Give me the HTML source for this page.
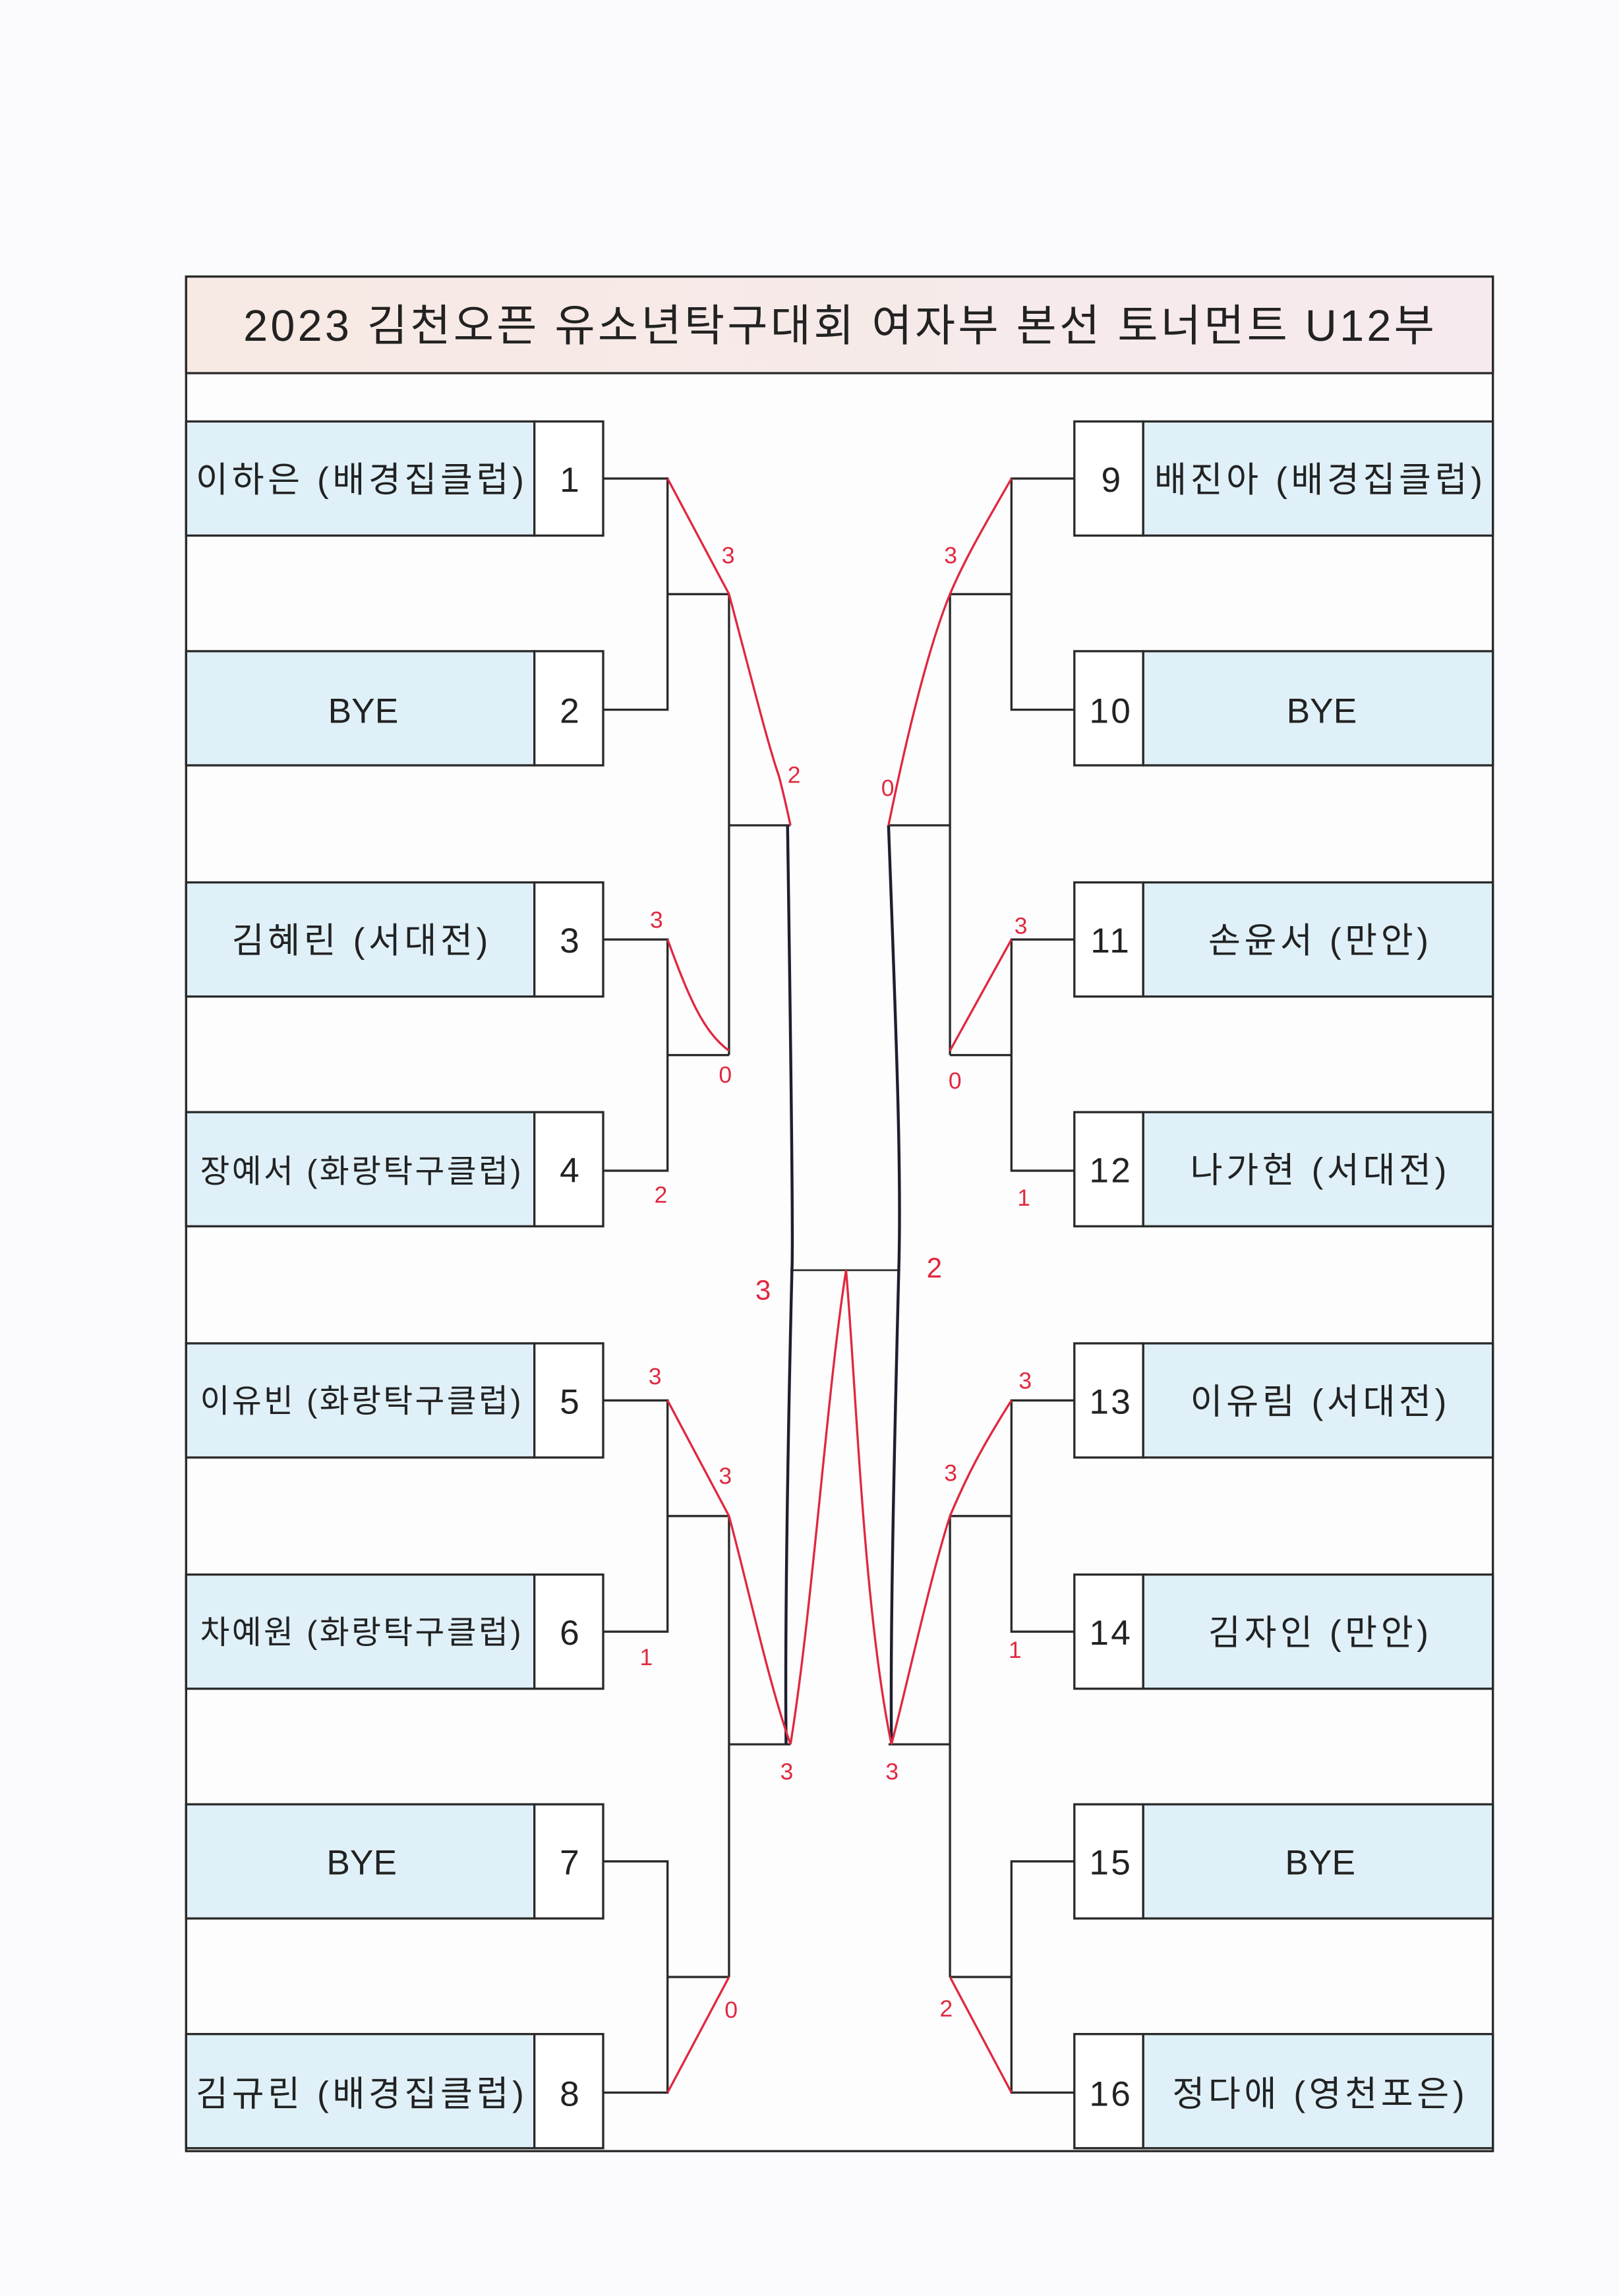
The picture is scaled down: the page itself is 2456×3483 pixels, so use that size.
<!DOCTYPE html>
<html><head><meta charset="utf-8"><style>
html,body{margin:0;padding:0;background:#fbfbfd;}
svg{display:block}
text{font-family:"Liberation Sans","Noto Sans CJK KR",sans-serif;fill:#222}
.n{letter-spacing:2.5px}
.s{letter-spacing:1.5px}
.r{fill:#e0283f;font-family:"Liberation Sans",sans-serif;font-size:16px;letter-spacing:0}
</style></head><body>
<svg width="2456" height="3483" viewBox="0 0 1106 1569" xmlns="http://www.w3.org/2000/svg">
<defs><linearGradient id="g" x1="0" x2="1"><stop offset="0" stop-color="#f7e9e3"/><stop offset="1" stop-color="#f6eaee"/></linearGradient></defs>
<rect x="0" y="0" width="1106" height="1569" fill="#fbfbfd"/>
<rect x="127" y="189" width="893" height="1281" fill="#fdfdfd" stroke="#2a2a2a" stroke-width="1.5"/>
<rect x="127" y="189" width="893" height="66" fill="url(#g)" stroke="#2a2a2a" stroke-width="1.5"/>
<text x="574" y="233" font-size="30" text-anchor="middle" letter-spacing="1.9">2023 김천오픈 유소년탁구대회 여자부 본선 토너먼트 U12부</text>
<g stroke="#2a2a2a" stroke-width="1.5">
<g fill="#dff0f8">
<rect x="127" y="288" width="238" height="78"/><rect x="127" y="445" width="238" height="78"/>
<rect x="127" y="603" width="238" height="78"/><rect x="127" y="760" width="238" height="78"/>
<rect x="127" y="918" width="238" height="78"/><rect x="127" y="1076" width="238" height="78"/>
<rect x="127" y="1233" width="238" height="78"/><rect x="127" y="1390" width="238" height="78"/>
<rect x="781" y="288" width="239" height="78"/><rect x="781" y="445" width="239" height="78"/>
<rect x="781" y="603" width="239" height="78"/><rect x="781" y="760" width="239" height="78"/>
<rect x="781" y="918" width="239" height="78"/><rect x="781" y="1076" width="239" height="78"/>
<rect x="781" y="1233" width="239" height="78"/><rect x="781" y="1390" width="239" height="78"/>
</g>
<g fill="#fff">
<rect x="365" y="288" width="47" height="78"/><rect x="365" y="445" width="47" height="78"/>
<rect x="365" y="603" width="47" height="78"/><rect x="365" y="760" width="47" height="78"/>
<rect x="365" y="918" width="47" height="78"/><rect x="365" y="1076" width="47" height="78"/>
<rect x="365" y="1233" width="47" height="78"/><rect x="365" y="1390" width="47" height="78"/>
<rect x="734" y="288" width="47" height="78"/><rect x="734" y="445" width="47" height="78"/>
<rect x="734" y="603" width="47" height="78"/><rect x="734" y="760" width="47" height="78"/>
<rect x="734" y="918" width="47" height="78"/><rect x="734" y="1076" width="47" height="78"/>
<rect x="734" y="1233" width="47" height="78"/><rect x="734" y="1390" width="47" height="78"/>
</g>
<g fill="none">
<path d="M412 327H456V485H412M456 406H498M412 642H456V800H412M456 721H498M498 406V721M498 564H540"/>
<path d="M412 957H456V1115H412M456 1036H498M412 1272H456V1430H412M456 1351H498M498 1036V1351M498 1192H540"/>
<path d="M734 327H691V485H734M691 406H649M734 642H691V800H734M691 721H649M649 406V721M649 564H607"/>
<path d="M734 957H691V1115H734M691 1036H649M734 1272H691V1430H734M691 1351H649M649 1036V1351M649 1192H607"/>
<path d="M540 868H615" stroke-width="1.2"/>
<path d="M538 564 C540 700 542 850 541 868 C539 950 536 1100 537 1192" stroke="#1e2030" stroke-width="2"/>
<path d="M607 564 C612 700 616 800 614 868 C612 950 608 1100 609 1192" stroke="#1e2030" stroke-width="2"/>
</g>
</g>
<g fill="none" stroke="#e0283f" stroke-width="1.5">
<path d="M456 327L498 406C515 470 525 510 532 530C536 545 538 555 540 564"/>
<path d="M456 642C470 680 480 705 498 718"/>
<path d="M691 327C675 355 660 380 649 406C635 440 620 500 607 564"/>
<path d="M691 642L649 718"/>
<path d="M456 957L498 1036C510 1080 525 1150 540 1192"/>
<path d="M456 1430L498 1351"/>
<path d="M540 1192C555 1100 565 950 578 868C585 950 590 1100 609 1192"/>
<path d="M691 957C670 990 660 1010 649 1036C635 1080 620 1150 609 1192"/>
<path d="M649 1351L691 1430"/>
</g>
<g>
<text x="493" y="385" class="r">3</text><text x="538" y="535" class="r">2</text>
<text x="444" y="634" class="r">3</text><text x="491" y="740" class="r">0</text><text x="447" y="822" class="r">2</text>
<text x="645" y="385" class="r">3</text><text x="602" y="544" class="r">0</text>
<text x="693" y="638" class="r">3</text><text x="648" y="744" class="r">0</text><text x="695" y="824" class="r">1</text>
<text x="443" y="946" class="r">3</text><text x="491" y="1014" class="r">3</text><text x="437" y="1138" class="r">1</text><text x="533" y="1216" class="r">3</text>
<text x="495" y="1379" class="r">0</text>
<text x="516" y="888" class="r" style="font-size:19px">3</text><text x="633" y="873" class="r" style="font-size:19px">2</text>
<text x="696" y="949" class="r">3</text><text x="645" y="1012" class="r">3</text><text x="689" y="1133" class="r">1</text><text x="605" y="1216" class="r">3</text>
<text x="642" y="1378" class="r">2</text>
</g>
<g font-size="24">
<text x="247" y="336" text-anchor="middle" class="n">이하은 (배경집클럽)</text>
<text x="248" y="494" text-anchor="middle">BYE</text>
<text x="247" y="651" text-anchor="middle" class="n">김혜린 (서대전)</text>
<text x="247" y="808" text-anchor="middle" font-size="22" class="s">장예서 (화랑탁구클럽)</text>
<text x="247" y="965" text-anchor="middle" font-size="22" class="s">이유빈 (화랑탁구클럽)</text>
<text x="247" y="1123" text-anchor="middle" font-size="22" class="s">차예원 (화랑탁구클럽)</text>
<text x="247" y="1281" text-anchor="middle">BYE</text>
<text x="247" y="1439" text-anchor="middle" class="n">김규린 (배경집클럽)</text>
<text x="389" y="336" text-anchor="middle">1</text><text x="389" y="494" text-anchor="middle">2</text>
<text x="389" y="651" text-anchor="middle">3</text><text x="389" y="808" text-anchor="middle">4</text>
<text x="389" y="966" text-anchor="middle">5</text><text x="389" y="1124" text-anchor="middle">6</text>
<text x="389" y="1281" text-anchor="middle">7</text><text x="389" y="1439" text-anchor="middle">8</text>
<text x="759" y="336" text-anchor="middle">9</text><text x="759" y="494" text-anchor="middle" class="s">10</text>
<text x="759" y="651" text-anchor="middle" class="s">11</text><text x="759" y="808" text-anchor="middle" class="s">12</text>
<text x="759" y="966" text-anchor="middle" class="s">13</text><text x="759" y="1124" text-anchor="middle" class="s">14</text>
<text x="759" y="1281" text-anchor="middle" class="s">15</text><text x="759" y="1439" text-anchor="middle" class="s">16</text>
<text x="902" y="336" text-anchor="middle" class="n">배진아 (배경집클럽)</text>
<text x="903" y="494" text-anchor="middle">BYE</text>
<text x="902" y="651" text-anchor="middle" class="n">손윤서 (만안)</text>
<text x="902" y="808" text-anchor="middle" class="n">나가현 (서대전)</text>
<text x="902" y="966" text-anchor="middle" class="n">이유림 (서대전)</text>
<text x="902" y="1124" text-anchor="middle" class="n">김자인 (만안)</text>
<text x="902" y="1281" text-anchor="middle">BYE</text>
<text x="902" y="1439" text-anchor="middle" class="n">정다애 (영천포은)</text>
</g>
</svg>
</body></html>
